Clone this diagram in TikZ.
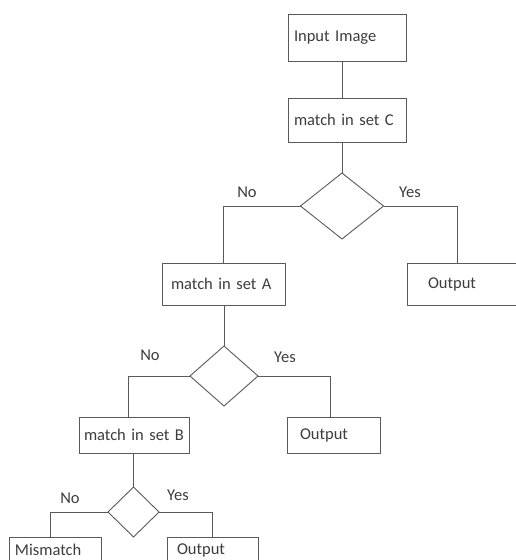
\documentclass[tikz,border=0pt]{standalone}
\usepackage{fontspec}
\setmainfont{Carlito}
\usepackage{tikz,xcolor}
\usetikzlibrary{calc,positioning,shapes.geometric}
\definecolor{linegray}{HTML}{5A5A5A}
\definecolor{textgray}{HTML}{3C3C3C}
\tikzset{
    box/.style={
        draw=linegray,
        rectangle,
        align=left,
        inner ysep=0pt,
        outer sep=0pt,
        line width=0.9pt,
        text=textgray,
        font=\fontsize{16.5pt}{19pt}\selectfont
    },
    decision/.style={ % requires library shapes.geometric
        draw=linegray,
        diamond,
        inner sep=0pt,
        outer sep=0pt,
        line width=0.9pt
    },
    answer/.style={
        text=textgray,
        inner sep=0pt,
        font=\fontsize{16.5pt}{19pt}\selectfont
    },
    link/.style={
        draw=linegray,
        line width=0.9pt
    }
}
\begin{document}
\begin{tikzpicture}[x=1pt,y=-1pt]
        \useasboundingbox (0,0) rectangle (516,560);
        \clip (0,0) rectangle (516,560);

        \node[box,minimum height=47pt,inner xsep=6pt,text width=106pt] (inp) at (347,37.5) {Input Image};
        \node[box,minimum height=44pt,inner xsep=6pt,text width=106pt] (mC) at (347,120) {match in set C};
        \node[decision,minimum width=83pt,minimum height=66pt] (dC) at (342,206) {};
        \node[box,minimum height=42pt,inner xsep=9pt,text width=105pt] (mA) at (223.5,284) {match in set A};
        \node[box,minimum height=42pt,inner xsep=21pt,text width=83pt] (oC) at (469.5,284) {Output};

        \node[decision,minimum width=68pt,minimum height=60pt] (dA) at (224,376) {};
        \node[box,minimum height=36pt,inner xsep=5pt,text width=100pt] (mB) at (134,435) {match in set B};
        \node[box,minimum height=36pt,inner xsep=13pt,text width=67pt] (oA) at (333.5,435) {Output};

        \node[decision,minimum width=51pt,minimum height=50pt] (dB) at (133.5,512) {};
        \node[box,minimum height=26pt,inner xsep=6pt,text width=80pt] (mis) at (55,550) {Mismatch};
        \node[box,minimum height=26pt,inner xsep=10pt,text width=71pt] (oB) at (212.5,550) {Output};

        \node[answer] (noC) at (247,192) {No};
        \node[answer] (yesC) at (410,192) {Yes};
        \node[answer] (noA) at (150,355) {No};
        \node[answer] (yesA) at (285,357) {Yes};
        \node[answer] (noB) at (70,498) {No};
        \node[answer] (yesB) at (178,495) {Yes};

        \draw[link] (inp.south -| dC) -- (mC.north -| dC);
        \draw[link] (mC.south -| dC) -- (dC.north);
        \draw[link] (dC.west) -| (mA.north);
        \draw[link] (dC.east) -| ([xshift=50pt]oC.north west);

        \draw[link] (mA.south -| dA) -- (dA.north);
        \draw[link] (dA.west) -| ([xshift=49pt]mB.north west);
        \draw[link] (dA.east) -| ([xshift=43pt]oA.north west);

        \draw[link] (mB.south -| dB) -- (dB.north);
        \draw[link] (dB.west) -| ([xshift=41pt]mis.north west);
        \draw[link] (dB.east) -| (oB.north);
    \end{tikzpicture}
\end{document}
